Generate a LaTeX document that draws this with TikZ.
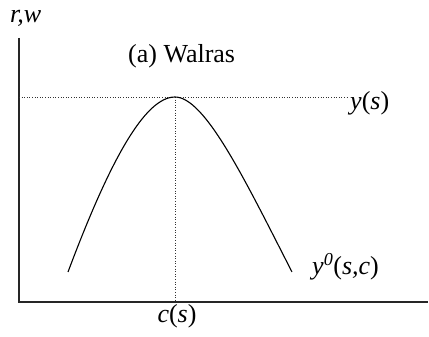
\documentclass[tikz,border=0pt]{standalone}
\usepackage{fontspec}
\setmainfont{Liberation Serif}
\begin{document}
\begin{tikzpicture}[x=1pt,y=1pt,
  lbl/.style={inner sep=0pt,anchor=base west,font=\fontsize{26}{31}\selectfont},
  axis/.style={line width=1.2pt,black!85},
  curve/.style={line width=1.1pt,black},
  guide/.style={line width=0.6pt,dotted,black!80}]
\useasboundingbox (0,0) rectangle (429,337);
\coordinate (o) at (19,35);
\coordinate (ytop) at (19,299);
\coordinate (xend) at (428,35);
\coordinate (peak) at (175,240);
\coordinate (cl) at (68,65);
\coordinate (cr) at (292,65);
\coordinate (gl) at (19,240);
\coordinate (gr) at (349,240);
\coordinate (gb) at (175,35);
\draw[axis] (ytop) -- (o) -- (xend);
\draw[guide] (gl) -- (gr);
\draw[guide] (peak) -- (gb);
\draw[curve] (cl) .. controls (110,177) and (145,240) .. (peak)
  .. controls (205,240) and (245,157) .. (cr);
\node[lbl] (rw) at (10,314) {\textit{r,w}};
\node[lbl] (title) at (128,274) {(a) Walras};
\node[lbl] (ys) at (350,227) {\textit{y}(\textit{s})};
\node[lbl] (y0) at (312,62) {\textit{y}\textsuperscript{\textit{0}}(\textit{s,c})};
\node[lbl,anchor=base] (cs) at (177,14) {\textit{c}(\textit{s})};
\end{tikzpicture}
\end{document}
